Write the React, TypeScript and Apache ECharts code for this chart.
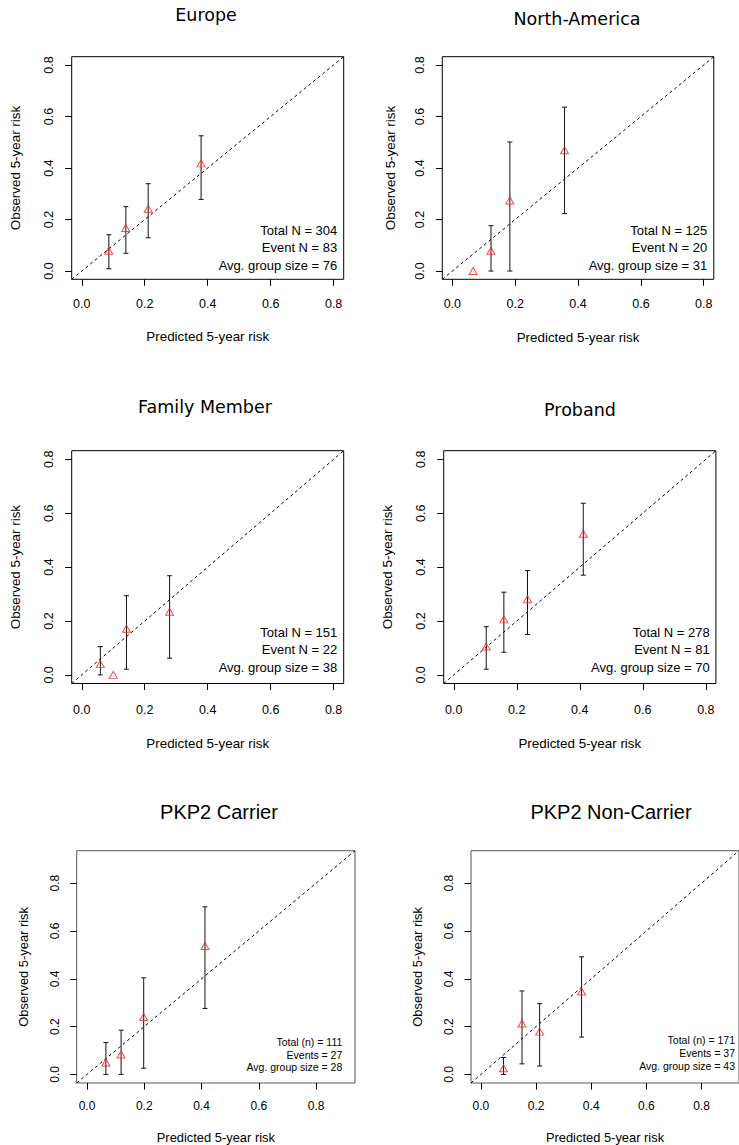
import React, { useEffect, useRef } from "react";
import * as echarts from "echarts";

// ---- data (predicted risk, observed risk, CI lower, CI upper) ----
const panelTitles = ["Europe", "North-America", "Family Member", "Proband", "PKP2 Carrier", "PKP2 Non-Carrier"];

const europePred = [0.086, 0.140, 0.211, 0.379];
const europeObs = [0.079, 0.167, 0.242, 0.418];
const europeLower = [0.009, 0.069, 0.129, 0.278];
const europeUpper = [0.141, 0.250, 0.339, 0.525];

const naPred = [0.066, 0.123, 0.183, 0.357];
const naObs = [0.0, 0.079, 0.274, 0.469];
const naLower = [null, 0.0, 0.0, 0.223];
const naUpper = [null, 0.176, 0.501, 0.636];

const familyPred = [0.059, 0.100, 0.142, 0.279];
const familyObs = [0.040, 0.0, 0.171, 0.234];
const familyLower = [0.0, null, 0.021, 0.062];
const familyUpper = [0.105, null, 0.294, 0.368];

const probandPred = [0.103, 0.159, 0.234, 0.411];
const probandObs = [0.105, 0.206, 0.281, 0.524];
const probandLower = [0.021, 0.084, 0.150, 0.370];
const probandUpper = [0.179, 0.307, 0.387, 0.637];

const carrierPred = [0.066, 0.119, 0.198, 0.412];
const carrierObs = [0.050, 0.083, 0.240, 0.537];
const carrierLower = [0.0, 0.0, 0.026, 0.276];
const carrierUpper = [0.133, 0.185, 0.404, 0.701];

const nonCarrierPred = [0.082, 0.149, 0.213, 0.365];
const nonCarrierObs = [0.026, 0.213, 0.179, 0.347];
const nonCarrierLower = [0.0, 0.044, 0.035, 0.156];
const nonCarrierUpper = [0.071, 0.349, 0.296, 0.492];

const statsLines = [
  ["Total N = 304", "Event N = 83", "Avg. group size = 76"],
  ["Total N = 125", "Event N = 20", "Avg. group size = 31"],
  ["Total N = 151", "Event N = 22", "Avg. group size = 38"],
  ["Total N = 278", "Event N = 81", "Avg. group size = 70"],
  ["Total (n) = 111", "Events = 27", "Avg. group size = 28"],
  ["Total (n) = 171", "Events = 37", "Avg. group size = 43"],
];

const tickValues = [0, 0.2, 0.4, 0.6, 0.8];
const xAxisTitle = "Predicted 5-year risk";
const yAxisTitle = "Observed 5-year risk";

const seriesSets = [
  [europePred, europeObs, europeLower, europeUpper],
  [naPred, naObs, naLower, naUpper],
  [familyPred, familyObs, familyLower, familyUpper],
  [probandPred, probandObs, probandLower, probandUpper],
  [carrierPred, carrierObs, carrierLower, carrierUpper],
  [nonCarrierPred, nonCarrierObs, nonCarrierLower, nonCarrierUpper],
];

// ---- layout (pixels) ----
const layouts = [
  { left: 71.7, top: 56.7, width: 272, height: 222.6, lim: [-0.032, 0.832], titleX: 206, titleY: 15, titleFont: "DejaVu Sans", titleSize: 17.5, xl: 18, xn: 51, yl: 16, yn: 50, statX: 337.3, statY: [230, 247.7, 265], statSize: 13, tick: 12.5, nameSize: 13.4, border: "#000" },
  { left: 442.3, top: 56.7, width: 271.5, height: 222.6, lim: [-0.032, 0.832], titleX: 577, titleY: 18.5, titleFont: "DejaVu Sans", titleSize: 17.5, xl: 18, xn: 52, yl: 16, yn: 45, statX: 707.3, statY: [230, 247.7, 265], statSize: 13, tick: 12.5, nameSize: 13.4, border: "#000" },
  { left: 71.7, top: 450.7, width: 272, height: 232.8, lim: [-0.032, 0.832], titleX: 205, titleY: 407, titleFont: "DejaVu Sans", titleSize: 17.5, xl: 20, xn: 53.5, yl: 16, yn: 50, statX: 337.3, statY: [632.3, 649.3, 667], statSize: 13, tick: 12.5, nameSize: 13.4, border: "#000" },
  { left: 443.7, top: 450.7, width: 272.2, height: 232.8, lim: [-0.032, 0.832], titleX: 580, titleY: 410, titleFont: "DejaVu Sans", titleSize: 17.5, xl: 20, xn: 53.5, yl: 16, yn: 50, statX: 709.7, statY: [632.3, 649.3, 667], statSize: 13, tick: 12.5, nameSize: 13.4, border: "#000" },
  { left: 76.7, top: 850.7, width: 278.3, height: 232.3, lim: [-0.036, 0.936], titleX: 219, titleY: 812, titleFont: "Liberation Sans", titleSize: 20, xl: 17, xn: 48, yl: 16, yn: 47, statX: 342.3, statY: [1042.3, 1055, 1067.3], statSize: 10.5, tick: 12, nameSize: 12.9, border: "#555" },
  { left: 471, top: 850.7, width: 279, height: 232.3, lim: [-0.036, 0.936], titleX: 611, titleY: 812, titleFont: "Liberation Sans", titleSize: 20, xl: 17, xn: 48, yl: 16, yn: 47, statX: 735, statY: [1040, 1052.7, 1065.7], statSize: 10.5, tick: 12, nameSize: 12.9, border: "#555" },
];

const FONT = "'Liberation Sans', Arial, Helvetica, sans-serif";

function buildOption() {
  const grid: any[] = [];
  const xAxis: any[] = [];
  const yAxis: any[] = [];
  const series: any[] = [];
  const graphic: any[] = [];

  layouts.forEach((L, i) => {
    const [pred, obs, lower, upper] = seriesSets[i] as any[];
    grid.push({
      left: L.left, top: L.top, width: L.width, height: L.height,
      show: true, borderColor: L.border, borderWidth: 1, backgroundColor: "transparent",
      containLabel: false,
    });
    const common = (labelMargin: number, nameGap: number, rotate: number) => ({
      gridIndex: i,
      type: "value",
      min: L.lim[0],
      max: L.lim[1],
      splitLine: { show: false },
      axisLine: { show: false, onZero: false },
      axisTick: { show: true, inside: false, length: 6.5, customValues: tickValues, lineStyle: { color: "#000", width: 1 } },
      axisLabel: {
        customValues: tickValues,
        formatter: (v: number) => v.toFixed(1),
        margin: labelMargin,
        rotate,
        color: "#000",
        fontSize: L.tick,
        fontFamily: FONT,
      },
      nameLocation: "middle",
      nameGap,
      nameTextStyle: { color: "#000", fontSize: L.nameSize, fontFamily: FONT },
    });
    xAxis.push({ ...common(L.xl, L.xn, 0), name: xAxisTitle });
    yAxis.push({ ...common(L.yl, L.yn, 90), name: yAxisTitle, nameRotate: 90 });

    series.push({
      type: "line",
      xAxisIndex: i,
      yAxisIndex: i,
      data: [[L.lim[0], L.lim[0]], [L.lim[1], L.lim[1]]],
      symbol: "none",
      silent: true,
      lineStyle: { color: "#000", width: 1, type: [3, 3] },
      z: 1,
    });

    const barData = pred
      .map((x: number, j: number) => (lower[j] == null ? null : [x, lower[j], upper[j]]))
      .filter((d: any) => d != null);
    series.push({
      type: "custom",
      xAxisIndex: i,
      yAxisIndex: i,
      data: barData,
      encode: { x: 0, y: [1, 2] },
      silent: true,
      z: 2,
      renderItem: (params: any, api: any) => {
        const x = api.value(0);
        const lo = api.coord([x, api.value(1)]);
        const hi = api.coord([x, api.value(2)]);
        const cw = 2.5;
        const st = { stroke: "#111", lineWidth: 1 };
        return {
          type: "group",
          children: [
            { type: "line", shape: { x1: lo[0], y1: lo[1], x2: hi[0], y2: hi[1] }, style: st },
            { type: "line", shape: { x1: lo[0] - cw, y1: lo[1], x2: lo[0] + cw, y2: lo[1] }, style: st },
            { type: "line", shape: { x1: hi[0] - cw, y1: hi[1], x2: hi[0] + cw, y2: hi[1] }, style: st },
          ],
        };
      },
    });

    series.push({
      type: "scatter",
      xAxisIndex: i,
      yAxisIndex: i,
      data: pred.map((x: number, j: number) => [x, obs[j]]),
      symbol: "triangle",
      symbolSize: [8, 7],
      itemStyle: { color: "rgba(0,0,0,0)", borderColor: "#ff1a1a", borderWidth: 1 },
      silent: true,
      z: 3,
    });

    graphic.push({
      type: "text",
      x: L.titleX,
      y: L.titleY,
      style: {
        text: panelTitles[i],
        fill: "#000",
        font: `${L.titleSize}px ${L.titleFont === "DejaVu Sans" ? "'DejaVu Sans'" : FONT}`,
        textAlign: "center",
        textVerticalAlign: "middle",
      },
    });
    statsLines[i].forEach((t, k) => {
      graphic.push({
        type: "text",
        x: L.statX,
        y: L.statY[k],
        style: {
          text: t,
          fill: "#000",
          font: `${L.statSize}px ${FONT}`,
          textAlign: "right",
          textVerticalAlign: "middle",
        },
      });
    });
  });

  return {
    animation: false,
    backgroundColor: "#fff",
    grid,
    xAxis,
    yAxis,
    series,
    graphic,
  };
}

export default function App() {
  const ref = useRef<HTMLDivElement>(null);
  useEffect(() => {
    if (!ref.current) return;
    const chart = echarts.init(ref.current, undefined, { renderer: "svg" });
    chart.setOption(buildOption() as any);
    return () => chart.dispose();
  }, []);
  return (
    <div
      ref={ref}
      style={{ position: "absolute", left: 0, top: 0, width: 739, height: 1145, background: "#fff" }}
    />
  );
}
